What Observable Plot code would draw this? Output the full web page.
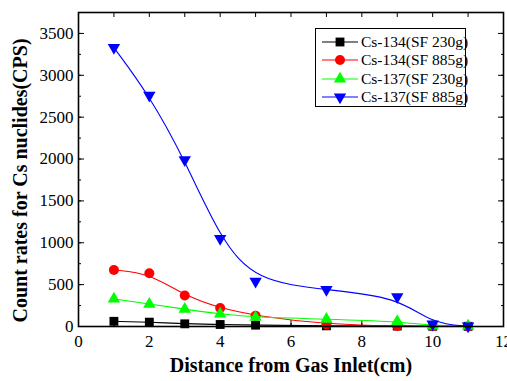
<!DOCTYPE html>
<html><head><meta charset="utf-8">
<script src="https://cdn.jsdelivr.net/npm/d3@7"></script>
<script src="https://cdn.jsdelivr.net/npm/@observablehq/plot@0.6"></script>
<style>
html,body{margin:0;padding:0;background:#fff;}
#wrap{position:relative;width:507px;height:381px;overflow:hidden;}
#wrap svg text{font-family:"Liberation Serif",serif !important;}
#legend{position:absolute;left:315px;top:28px;width:151px;height:79px;border:1px solid #000;background:#fff;font-family:"Liberation Serif",serif;font-size:15.5px;box-sizing:border-box;}
#legend .row{position:absolute;left:0;height:18px;display:flex;align-items:center;white-space:nowrap;}
#legend svg{display:block;}
</style>
</head><body>
<div id="wrap"><div id="legend"></div></div>
<script>
const distances = [1, 2, 3, 4, 5, 7, 9, 10, 11];
const seriesNames = ["Cs-134(SF 230g)", "Cs-134(SF 885g)", "Cs-137(SF 230g)", "Cs-137(SF 885g)"];
const cs134_230 = [62, 52, 32, 24, 16, 8, 5, 3, 2];
const cs134_885 = [675, 635, 370, 220, 128, 25, 5, 2, 1];
const cs137_230 = [330, 268, 207, 150, 110, 88, 62, 8, 6];
const cs137_885 = [3330, 2760, 1990, 1050, 540, 440, 355, 30, 5];
const xTicks = [0, 2, 4, 6, 8, 10, 12];
const yTicks = [0, 500, 1000, 1500, 2000, 2500, 3000, 3500];
const xTitle = "Distance from Gas Inlet(cm)";
const yTitle = "Count rates for Cs nuclides(CPS)";

const colors = ["#000000", "#ff0000", "#00ff00", "#0000ff"];
const symbols = ["square", "circle", "triangle", "triangle"];
const rotations = [0, 0, 0, 180];
const radii = [5, 5, 4.6, 4.6];
const allValues = [cs134_230, cs134_885, cs137_230, cs137_885];

const xMinor = d3.range(0, 13, 1);
const yMinor = d3.range(0, 3751, 250);
const blank = () => "";
const fmt = d3.format("d");

const marks = [];
// ticks (inward)
marks.push(Plot.axisX(xMinor, {anchor: "bottom", tickSize: -3, tickFormat: blank, label: null}));
marks.push(Plot.axisX(xTicks, {anchor: "bottom", tickSize: -6, tickFormat: blank, label: null}));
marks.push(Plot.axisX(xMinor, {anchor: "top", tickSize: -4, tickFormat: blank, label: null}));
marks.push(Plot.axisY(yMinor, {anchor: "left", tickSize: -3, tickFormat: blank, label: null}));
marks.push(Plot.axisY(yTicks, {anchor: "left", tickSize: -6, tickFormat: blank, label: null}));
marks.push(Plot.axisY(yMinor, {anchor: "right", tickSize: -3, tickFormat: blank, label: null}));
marks.push(Plot.axisY(yTicks, {anchor: "right", tickSize: -6, tickFormat: blank, label: null}));
// labels
marks.push(Plot.axisX(xTicks, {anchor: "bottom", tickSize: 0, tickPadding: 8, tickFormat: fmt, label: null, fontSize: 17}));
marks.push(Plot.axisY(yTicks, {anchor: "left", tickSize: 0, tickPadding: 5, tickFormat: fmt, label: null, fontSize: 17}));

allValues.forEach((vals, i) => {
  const data = distances.map((x, j) => ({x, y: vals[j]}));
  marks.push(Plot.line(data, {x: "x", y: "y", curve: "basis", stroke: colors[i], strokeWidth: 1.1}));
  marks.push(Plot.dot(data, {x: "x", y: "y", symbol: symbols[i], rotate: rotations[i], r: radii[i], fill: colors[i], stroke: "none"}));
});
marks.push(Plot.frame({stroke: "#000", strokeWidth: 1.6}));
marks.push(Plot.text([xTitle], {frameAnchor: "bottom", dy: 45, fontSize: 20, fontWeight: "bold", textAnchor: "middle"}));
marks.push(Plot.text([yTitle], {frameAnchor: "left", dx: -58, dy: 11, rotate: -90, fontSize: 20, fontWeight: "bold", textAnchor: "middle"}));

const chart = Plot.plot({
  width: 507, height: 381,
  marginLeft: 78, marginRight: 4, marginTop: 12, marginBottom: 55,
  x: {domain: [0, 12], axis: null},
  y: {domain: [0, 3750], axis: null},
  style: {fontFamily: "'Liberation Serif', serif", fontSize: "16px", color: "#000", background: "#fff", overflow: "visible"},
  marks
});
const wrap = document.getElementById("wrap");
wrap.insertBefore(chart, wrap.firstChild);

// legend
const legend = document.getElementById("legend");
seriesNames.forEach((name, i) => {
  const row = document.createElement("div");
  row.className = "row";
  row.style.top = (4 + i * 18.3) + "px";
  const svg = d3.create("svg").attr("width", 44).attr("height", 18);
  svg.append("line").attr("x1", 6).attr("x2", 42).attr("y1", 9).attr("y2", 9).attr("stroke", colors[i]).attr("stroke-width", 1.1);
  const sym = {square: d3.symbolSquare, circle: d3.symbolCircle, triangle: d3.symbolTriangle}[symbols[i]];
  svg.append("path").attr("d", d3.symbol(sym, Math.PI * radii[i] * radii[i])())
    .attr("transform", `translate(24,9) rotate(${rotations[i]})`).attr("fill", colors[i]);
  row.appendChild(svg.node());
  const span = document.createElement("span");
  span.textContent = name;
  span.style.marginLeft = "1px";
  row.appendChild(span);
  legend.appendChild(row);
});
</script>
</body></html>
